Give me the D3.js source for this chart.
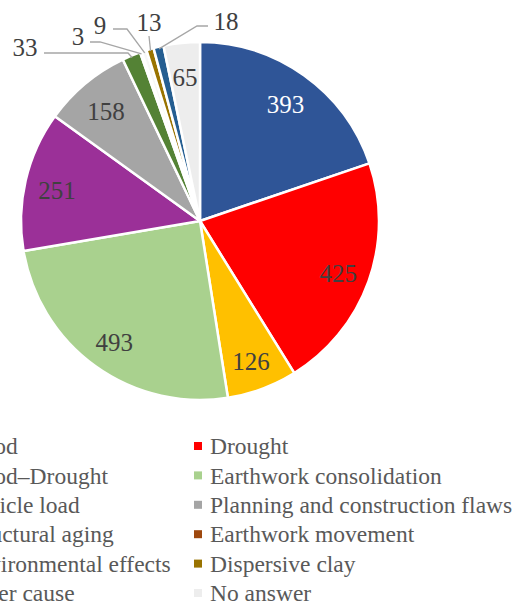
<!DOCTYPE html>
<html><head>
<meta charset="utf-8">
<script src="https://d3js.org/d3.v7.min.js"></script>
<style>
  body { margin: 0; background: #fff; }
</style>
</head>
<body>
<svg id="chart" width="527" height="603"></svg>

<script>
// Causes and how many cases each one has, in pie order (clockwise from 12 o'clock)
const causes = ["Flood", "Drought", "Flood\u2013Drought", "Earthwork consolidation",
                "Vehicle load", "Planning and construction flaws", "Structural aging",
                "Earthwork movement", "Environmental effects", "Dispersive clay",
                "Other cause", "No answer"];
const counts = [393, 425, 126, 493, 251, 158, 33, 3, 9, 13, 18, 65];
const colors = ["#2F5597", "#FF0000", "#FFC000", "#A9D18E", "#9B3098", "#A5A5A5",
                "#548235", "#9E480E", "#F7F7F7", "#997300", "#255E91", "#EDEDED"];

// Small slices get their number outside with a leader line.
// tx/ty = text centre, sx/sy = start of leader, ex/ey = elbow (relative to pie centre)
const callouts = {
  "Structural aging":      { tx: -175, ty: -174, sx: -156, sy: -168, ex: -72, ey: -168 },
  "Earthwork movement":    { tx: -122, ty: -185, sx: -110, sy: -179, ex: -100, ey: -179 },
  "Environmental effects": { tx: -100, ty: -196, sx: -87,  sy: -192, ex: -73,  ey: -192 },
  "Dispersive clay":       { tx: -51,  ty: -199, sx: -51,  sy: -185, ex: -51,  ey: -185 },
  "Other cause":           { tx: 26,   ty: -200, sx: 8,    sy: -195, ex: -3,   ey: -195 }
};

const FONT = "Liberation Serif";

const svg = d3.select("#chart");
const cx = 200, cy = 221, radius = 179;

const data = causes.map((c, i) => ({ cause: c, count: counts[i], color: colors[i] }));

const pie = d3.pie().value(d => d.count).sort(null);
const arc = d3.arc().innerRadius(0).outerRadius(radius);
const labelArc = d3.arc().innerRadius(radius * 0.82).outerRadius(radius * 0.82);
const edgeArc = d3.arc().innerRadius(radius - 2).outerRadius(radius - 2);

const g = svg.append("g").attr("transform", `translate(${cx},${cy})`);
const slices = pie(data);

g.selectAll("path.slice").data(slices)
  .join("path")
  .attr("class", "slice")
  .attr("d", arc)
  .attr("fill", d => d.data.color)
  .attr("stroke", "#fff")
  .attr("stroke-width", 2.5)
  .attr("stroke-linejoin", "round");

// numbers inside the big slices
g.selectAll("text.label").data(slices.filter(d => !callouts[d.data.cause]))
  .join("text")
  .attr("class", "label")
  .attr("transform", d => `translate(${labelArc.centroid(d)})`)
  .attr("text-anchor", "middle")
  .attr("dy", "0.45em")
  .attr("font-family", FONT)
  .attr("font-size", 25)
  .attr("fill", d => d.data.cause === "Flood" ? "#fff" : "#404040")
  .text(d => d.data.count);

// leader lines + numbers for the thin slices
const outside = slices.filter(d => callouts[d.data.cause]);
g.selectAll("polyline.leader").data(outside)
  .join("polyline")
  .attr("class", "leader")
  .attr("fill", "none")
  .attr("stroke", "#A6A6A6")
  .attr("stroke-width", 1.3)
  .attr("points", d => {
    const c = callouts[d.data.cause];
    const end = edgeArc.centroid(d);
    return [[c.sx, c.sy], [c.ex, c.ey], end].map(p => p.join(",")).join(" ");
  });

g.selectAll("text.outside").data(outside)
  .join("text")
  .attr("class", "outside")
  .attr("x", d => callouts[d.data.cause].tx)
  .attr("y", d => callouts[d.data.cause].ty)
  .attr("text-anchor", "middle")
  .attr("dy", "0.35em")
  .attr("font-family", FONT)
  .attr("font-size", 25)
  .attr("fill", "#404040")
  .text(d => d.data.count);

// legend, two columns filled row by row
const legend = svg.append("g").attr("class", "legend");
const colX = [-37, 210], rowY0 = 446, rowStep = 29.4;

const items = legend.selectAll("g.item").data(data)
  .join("g")
  .attr("class", "item")
  .attr("transform", (d, i) => `translate(${colX[i % 2]},${rowY0 + Math.floor(i / 2) * rowStep})`);

items.append("rect")
  .attr("x", -16).attr("y", -4)
  .attr("width", 8).attr("height", 8)
  .attr("fill", d => d.color);

items.append("text")
  .attr("dy", "0.35em")
  .attr("font-family", FONT)
  .attr("font-size", 23.5)
  .attr("fill", "#595959")
  .text(d => d.cause);
</script>
</body>
</html>
